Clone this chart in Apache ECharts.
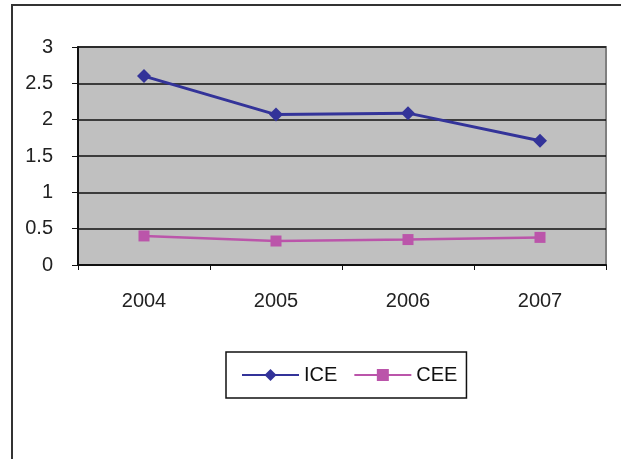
<!DOCTYPE html>
<html>
<head>
<meta charset="utf-8">
<script src="https://cdn.jsdelivr.net/npm/echarts@6/dist/echarts.min.js"></script>
<style>
  html, body { margin: 0; padding: 0; background: #fff; }
  #chart { width: 621px; height: 459px; }
</style>
</head>
<body>
<div id="chart"></div>
<script>
var years = ['2004', '2005', '2006', '2007']
var ice = [2.6, 2.07, 2.09, 1.71]
var cee = [0.4, 0.33, 0.35, 0.38]

var chart = echarts.init(document.getElementById('chart'))
var font = 'Liberation Sans, Arial, sans-serif'

chart.setOption({
  animation: false,
  textStyle: { fontFamily: font },
  graphic: [
    // outer chart frame (left + top only visible)
    { type: 'polyline', shape: { points: [[12, 459], [12, 5], [621, 5]] },
      style: { stroke: '#333', lineWidth: 2, fill: null } }
  ],
  grid: {
    left: 78, top: 47, right: 15, bottom: 194,
    show: true,
    backgroundColor: '#c0c0c0',
    borderColor: '#808080',
    borderWidth: 2
  },
  legend: {
    left: 226, top: 352,
    padding: [13, 9, 13, 15],
    borderColor: '#111',
    borderWidth: 1.5,
    itemWidth: 57,
    itemHeight: 15,
    itemGap: 16,
    textStyle: { fontSize: 20, color: '#111', fontFamily: font },
    data: ['ICE', 'CEE']
  },
  xAxis: {
    type: 'category',
    data: years,
    boundaryGap: true,
    axisLine: { lineStyle: { color: '#111', width: 2 } },
    axisTick: { show: true, length: 5, lineStyle: { color: '#111' } },
    axisLabel: { fontSize: 20, color: '#222', margin: 26 }
  },
  yAxis: {
    type: 'value',
    min: 0, max: 3, interval: 0.5,
    axisLine: { show: true, lineStyle: { color: '#111', width: 2 } },
    axisTick: { show: true, length: 6, lineStyle: { color: '#111' } },
    axisLabel: { fontSize: 20, color: '#222', margin: 25 },
    splitLine: { lineStyle: { color: '#111', width: 1.5 } }
  },
  series: [
    {
      name: 'ICE', type: 'line', data: ice,
      symbol: 'diamond', symbolSize: [14, 14],
      itemStyle: { color: '#333399' },
      lineStyle: { color: '#333399', width: 3 }
    },
    {
      name: 'CEE', type: 'line', data: cee,
      symbol: 'rect', symbolSize: 11,
      itemStyle: { color: '#bb55aa' },
      lineStyle: { color: '#bb55aa', width: 2.5 }
    }
  ]
})
</script>
</body>
</html>
